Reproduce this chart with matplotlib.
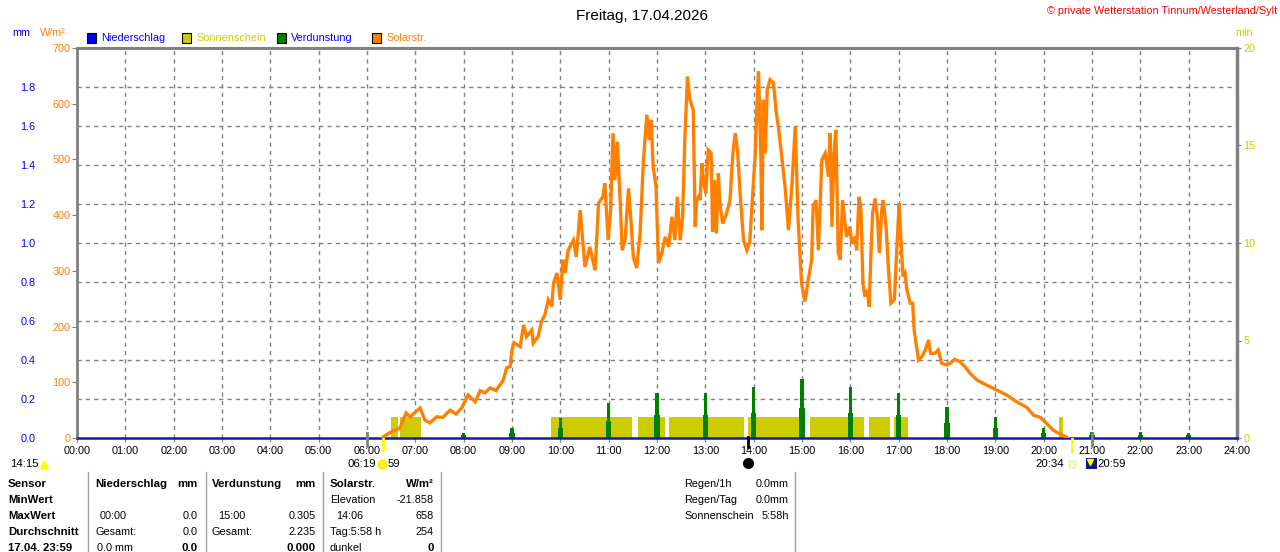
import matplotlib.pyplot as plt
from matplotlib.lines import Line2D
from matplotlib.patches import Rectangle

# solar radiation W/m2, hours of day
solar_t = [6.32, 6.34, 6.48, 6.68, 6.81, 6.89, 7.10, 7.20, 7.30, 7.44, 7.57, 7.72, 7.84, 7.96,
           8.09, 8.24, 8.34, 8.44, 8.55, 8.67, 8.82, 8.89, 8.96, 9.00, 9.04, 9.17, 9.24, 9.30,
           9.41, 9.44, 9.54, 9.61, 9.68, 9.75, 9.82, 9.86, 9.93, 10.00, 10.05, 10.10, 10.16,
           10.27, 10.33, 10.37, 10.41, 10.51, 10.61, 10.72, 10.79, 10.88, 10.92, 10.99, 11.04,
           11.09, 11.13, 11.18, 11.24, 11.28, 11.34, 11.41, 11.46, 11.51, 11.58, 11.65, 11.72,
           11.79, 11.84, 11.88, 11.92, 11.98, 12.03, 12.10, 12.17, 12.24, 12.31, 12.37, 12.42,
           12.48, 12.53, 12.58, 12.63, 12.68, 12.75, 12.79, 12.82, 12.86, 12.89, 12.93, 12.97,
           13.01, 13.06, 13.12, 13.15, 13.19, 13.23, 13.27, 13.30, 13.36, 13.44, 13.51, 13.57,
           13.62, 13.67, 13.72, 13.79, 13.86, 13.92, 13.98, 14.03, 14.08, 14.10, 14.15, 14.17,
           14.20, 14.24, 14.28, 14.34, 14.41, 14.46, 14.51, 14.55, 14.65, 14.72, 14.79, 14.86,
           14.92, 14.99, 15.06, 15.13, 15.20, 15.23, 15.29, 15.34, 15.41, 15.48, 15.55, 15.58,
           15.62, 15.66, 15.70, 15.75, 15.79, 15.84, 15.89, 15.92, 15.99, 16.03, 16.10, 16.13,
           16.18, 16.22, 16.26, 16.30, 16.35, 16.39, 16.42, 16.46, 16.51, 16.56, 16.60, 16.65,
           16.68, 16.74, 16.79, 16.84, 16.91, 16.96, 17.01, 17.04, 17.09, 17.13, 17.17, 17.24,
           17.29, 17.32, 17.36, 17.41, 17.48, 17.55, 17.62, 17.66, 17.75, 17.82, 17.89, 17.99,
           18.06, 18.16, 18.27, 18.37, 18.48, 18.62, 18.82, 19.03, 19.24, 19.44, 19.65, 19.79,
           19.93, 20.06, 20.20, 20.34, 20.46, 20.50]
solar_w = [0, 2, 10, 18, 45, 38, 54, 32, 27, 38, 37, 50, 43, 54,
           77, 65, 85, 81, 90, 85, 104, 126, 128, 158, 171, 164, 203, 182,
           194, 170, 182, 209, 221, 248, 236, 278, 296, 248, 320, 296, 337,
           355, 325, 368, 409, 307, 343, 301, 421, 433, 457, 355, 409,
           547, 463, 532, 421, 337, 355, 448, 391, 325, 305, 367, 499,
           580, 535, 571, 487, 451, 314, 332, 361, 343, 397, 355, 433,
           355, 397, 547, 649, 607, 589, 379, 427, 433, 427, 493, 457,
           439, 517, 511, 370, 463, 367, 475, 421, 385, 403, 427, 511,
           547, 511, 439, 355, 337, 352, 439, 505, 625, 658, 499, 373,
           607, 511, 625, 643, 637, 589, 559, 529, 451, 373, 451, 559,
           391, 278, 245, 284, 320, 415, 427, 337, 499, 511, 469, 547,
           379, 511, 553, 332, 320, 427, 385, 361, 379, 349, 361, 337,
           433, 409, 278, 254, 266, 236, 314, 403, 430, 397, 332, 409,
           427, 379, 301, 242, 248, 337, 421, 367, 290, 296, 266, 242,
           242, 194, 170, 140, 146, 158, 176, 152, 152, 158, 134, 131,
           134, 141, 137, 128, 116, 104, 95, 86, 77, 65, 55, 41,
           37, 26, 14, 7, 2, 0]

# sunshine minutes (start, end in hours)
sun_start = [6.49, 6.68, 9.81, 11.60, 12.25, 13.89, 15.17, 16.39, 16.90, 20.32]
sun_end = [6.64, 7.12, 11.49, 12.17, 13.80, 15.06, 16.28, 16.82, 17.19, 20.41]
sun_min = [1.1, 1.1, 1.1, 1.1, 1.1, 1.1, 1.1, 1.1, 1.1, 1.1]

# evaporation mm
evap_h = [8, 9, 10, 11, 12, 13, 14, 15, 16, 17, 18, 19, 20, 21, 22, 23]
evap_peak = [0.027, 0.053, 0.104, 0.181, 0.232, 0.229, 0.26, 0.305, 0.26, 0.229, 0.16, 0.106,
             0.053, 0.032, 0.032, 0.027]
evap_base = [0.013, 0.027, 0.05, 0.089, 0.12, 0.12, 0.13, 0.152, 0.13, 0.12, 0.079, 0.05,
             0.027, 0.016, 0.016, 0.013]

# precipitation mm
rain_t = [0, 24]
rain_mm = [0.0, 0.0]

hour_labels = ['%02d:00' % h for h in range(25)]
mm_ticks = [0.0, 0.2, 0.4, 0.6, 0.8, 1.0, 1.2, 1.4, 1.6, 1.8]
w_ticks = [0, 100, 200, 300, 400, 500, 600, 700]
min_ticks = [0, 5, 10, 15, 20]

plt.rcParams['font.family'] = ['Liberation Sans', 'DejaVu Sans']
W, H = 1280, 552
fig = plt.figure(figsize=(12.8, 5.52), dpi=100)
GRAY = '#808080'
ORANGE = '#FF8000'
OLIVE = '#CCCC00'
GREEN = '#008000'
BLUE = '#0000FF'
FS = 7.8


def fx(x):
    return x / W


def fy(y):
    return 1 - y / H


def ftext(x, y, s, **kw):
    kw.setdefault('fontsize', FS)
    kw.setdefault('va', 'center')
    fig.text(fx(x), fy(y), s, **kw)


rect = [fx(77), (H - 438) / H, 1160 / W, 390 / H]
axm = fig.add_axes(rect)   # sunshine minutes, base axis with grid
ax = fig.add_axes(rect)    # mm
axw = fig.add_axes(rect)   # W/m2
for a in (ax, axw):
    a.patch.set_visible(False)
    for s in a.spines.values():
        s.set_visible(False)
    a.set_xticks([])

for a in (axm, ax, axw):
    a.set_xlim(0, 24)
axm.set_ylim(0, 20)
ax.set_ylim(0, 2.0)
axw.set_ylim(0, 700)

# grid on base axis
axm.set_xticks(range(25))
axm.set_xticklabels(hour_labels, fontsize=FS)
axm.tick_params(axis='x', length=3, color=GRAY, pad=3)
for h in range(1, 24):
    axm.axvline(h, color=GRAY, lw=1, ls=(0, (3, 3)), zorder=0)
for v in mm_ticks[1:]:
    axm.axhline(v * 10, color=GRAY, lw=1, ls=(0, (3, 3)), zorder=0)

axm.spines['bottom'].set_visible(False)
axm.spines['top'].set_color(GRAY)
axm.spines['top'].set_linewidth(2.2)
axm.spines['left'].set_color(GRAY)
axm.spines['left'].set_linewidth(2)
axm.spines['right'].set_color(GRAY)
axm.spines['right'].set_linewidth(2.5)

axm.yaxis.tick_right()
axm.set_yticks(min_ticks)
axm.set_yticklabels([str(v) for v in min_ticks], color=OLIVE, fontsize=FS)
axm.tick_params(axis='y', length=3, color=GRAY, pad=1.5)

# sunshine bars
axm.bar(sun_start, sun_min, width=[e - s for s, e in zip(sun_start, sun_end)],
        align='edge', color=OLIVE, lw=0, zorder=2)

# mm axis labels
ax.set_yticks(mm_ticks)
ax.set_yticklabels(['%.1f' % v for v in mm_ticks], color=BLUE, fontsize=FS)
ax.tick_params(axis='y', length=0, pad=30)
ax.bar(evap_h, evap_base, width=0.11, color=GREEN, lw=0)
ax.bar(evap_h, evap_peak, width=0.07, color=GREEN, lw=0)
ax.plot(rain_t, rain_mm, color='#1818A8', lw=1.8, clip_on=False, zorder=5)

# solar radiation
axw.set_yticks(w_ticks)
axw.set_yticklabels([str(v) for v in w_ticks], color=ORANGE, fontsize=FS)
axw.tick_params(axis='y', length=3.5, color=GRAY, pad=1)
axw.plot(solar_t, solar_w, color=ORANGE, lw=2.4, solid_joinstyle='miter')

# header texts
ftext(642, 16, 'Freitag, 17.04.2026', fontsize=11, ha='center')
ftext(1277, 11, '\u00a9 private Wetterstation Tinnum/Westerland/Sylt', color='red', ha='right')
ftext(30, 33, 'mm', color=BLUE, ha='right')
ftext(40, 33, 'W/m\u00b2', color=ORANGE)
ftext(1253, 33, 'min', color=OLIVE, ha='right')

legend = [(87, 'Niederschlag', BLUE, BLUE), (182, 'Sonnenschein', OLIVE, OLIVE),
          (277, 'Verdunstung', GREEN, BLUE), (372, 'Solarstr.', ORANGE, ORANGE)]
for x, label, fc, tc in legend:
    fig.add_artist(Rectangle((fx(x), fy(43)), 9 / W, 10 / H, transform=fig.transFigure,
                             facecolor=fc, edgecolor='black', lw=0.8))
    ftext(x + 14, 38, label, color=tc)


# markers under the axis
def mark(x, y0, y1, color, lw=1.5):
    fig.add_artist(Line2D([fx(x), fx(x)], [fy(y0), fy(y1)], color=color, lw=lw,
                          transform=fig.transFigure))


mark(367, 433, 446, GRAY, 2)
mark(1092, 433, 446, GRAY, 2)
mark(383, 439, 450, '#FFFF00', 2)
mark(1072, 439, 452, '#FFFF00', 2)
mark(748, 437, 447, 'black', 2)

ftext(10, 464, '14:15', fontsize=8.2)
fig.add_artist(Line2D([fx(44)], [fy(464)], marker='^', ms=6, color='#FFFF00',
                      transform=fig.transFigure))
ftext(348, 464, '06:19', fontsize=8.2)
fig.add_artist(Line2D([fx(382)], [fy(464)], marker='o', ms=6, color='#FFFF00',
                      markeredgecolor='#FFE000', transform=fig.transFigure))
ftext(388, 464, '59', fontsize=8.2)
fig.add_artist(Line2D([fx(748)], [fy(463)], marker='o', ms=7, color='black',
                      transform=fig.transFigure))
ftext(1064, 464, '20:34', fontsize=8.2, ha='right')
fig.add_artist(Line2D([fx(1072)], [fy(464)], marker='s', ms=4, mfc='none', mec='#FFFF00',
                      transform=fig.transFigure))
fig.add_artist(Rectangle((fx(1086), fy(469)), 11 / W, 11 / H, transform=fig.transFigure,
                         facecolor='#101880', edgecolor='none'))
fig.add_artist(Line2D([fx(1090)], [fy(462)], marker='v', ms=5, color='#FFFF00',
                      transform=fig.transFigure))
ftext(1097, 464, '20:59', fontsize=8.2)

# table
for x, y0 in [(88, 472), (206, 472), (323, 472), (441, 472), (795, 472)]:
    fig.add_artist(Line2D([fx(x), fx(x)], [fy(y0), 0], color='#A0A0A0', lw=1,
                          transform=fig.transFigure))

rows = [484, 500, 516, 532, 548]
B = dict(fontweight='bold', fontsize=8.2)
ftext(8, rows[0], 'Sensor', **B)
ftext(8, rows[1], 'MinWert', **B)
ftext(8, rows[2], 'MaxWert', **B)
ftext(8, rows[3], 'Durchschnitt', **B)
ftext(8, rows[4], '17.04. 23:59', **B)

ftext(95, rows[0], 'Niederschlag', **B)
ftext(198, rows[0], 'mm', ha='right', **B)
ftext(100, rows[2], '00:00')
ftext(198, rows[2], '0.0', ha='right')
ftext(95, rows[3], 'Gesamt:')
ftext(198, rows[3], '0.0', ha='right')
ftext(97, rows[4], '0.0 mm')
ftext(198, rows[4], '0.0', ha='right', **B)

ftext(212, rows[0], 'Verdunstung', **B)
ftext(316, rows[0], 'mm', ha='right', **B)
ftext(218, rows[2], '15:00')
ftext(316, rows[2], '0.305', ha='right')
ftext(212, rows[3], 'Gesamt:')
ftext(316, rows[3], '2.235', ha='right')
ftext(316, rows[4], '0.000', ha='right', **B)

ftext(330, rows[0], 'Solarstr.', **B)
ftext(434, rows[0], 'W/m\u00b2', ha='right', **B)
ftext(330, rows[1], 'Elevation')
ftext(434, rows[1], '-21.858', ha='right')
ftext(336, rows[2], '14:06')
ftext(434, rows[2], '658', ha='right')
ftext(330, rows[3], 'Tag:5:58 h')
ftext(434, rows[3], '254', ha='right')
ftext(330, rows[4], 'dunkel')
ftext(434, rows[4], '0', ha='right', **B)

ftext(684, rows[0], 'Regen/1h')
ftext(789, rows[0], '0.0mm', ha='right')
ftext(684, rows[1], 'Regen/Tag')
ftext(789, rows[1], '0.0mm', ha='right')
ftext(684, rows[2], 'Sonnenschein')
ftext(789, rows[2], '5:58h', ha='right')

fig.savefig('out.png', dpi=100)
